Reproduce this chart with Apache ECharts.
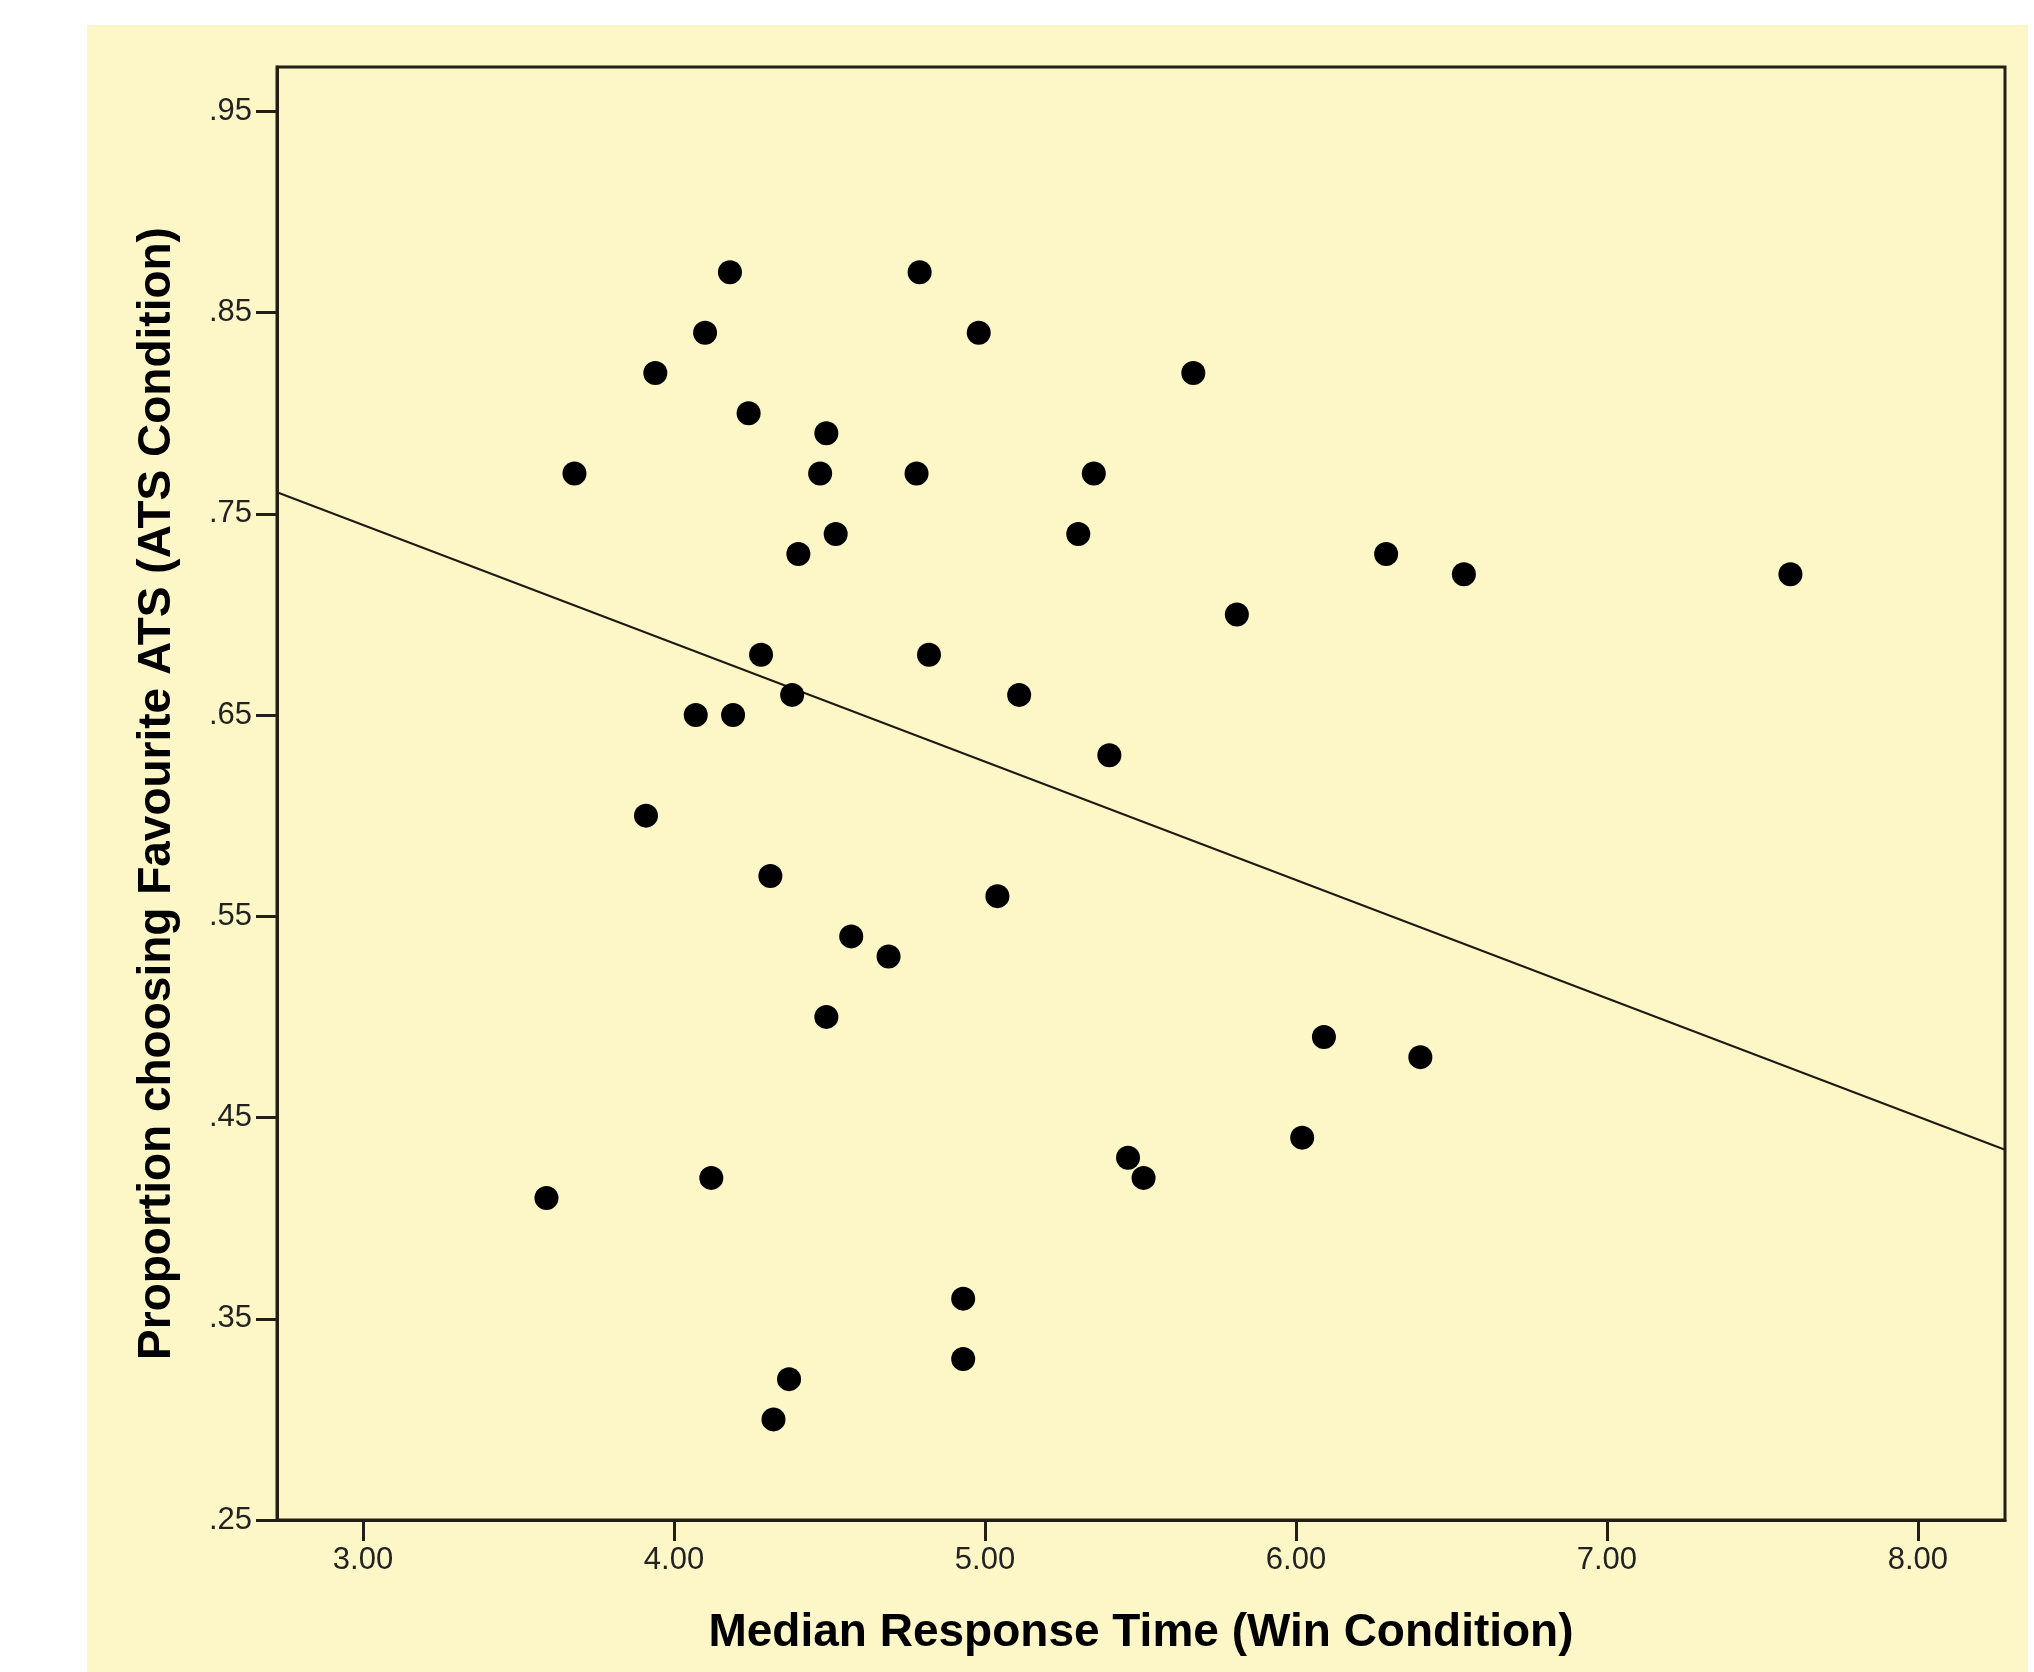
<!DOCTYPE html>
<html>
<head>
<meta charset="utf-8">
<script src="https://cdn.jsdelivr.net/npm/echarts@6/dist/echarts.min.js"></script>
<style>
  html, body { margin: 0; padding: 0; background: #fff; }
  #chart { width: 2034px; height: 1672px; }
</style>
</head>
<body>
<div id="chart"></div>
<script>
// data
const responseTime = [4.18, 4.79, 4.10, 4.98, 3.94, 5.67, 4.24, 4.49, 3.68, 4.47, 4.78, 5.35, 4.52, 5.30, 4.40, 6.29, 6.54, 7.59, 5.81, 4.28, 4.82, 4.38, 5.11, 4.07, 4.19, 5.40, 3.91, 4.31, 5.04, 4.57, 4.69, 4.49, 6.09, 6.40, 6.02, 5.46, 5.51, 4.12, 3.59, 4.93, 4.93, 4.37, 4.32]
const proportion = [0.87, 0.87, 0.84, 0.84, 0.82, 0.82, 0.80, 0.79, 0.77, 0.77, 0.77, 0.77, 0.74, 0.74, 0.73, 0.73, 0.72, 0.72, 0.70, 0.68, 0.68, 0.66, 0.66, 0.65, 0.65, 0.63, 0.60, 0.57, 0.56, 0.54, 0.53, 0.50, 0.49, 0.48, 0.44, 0.43, 0.42, 0.42, 0.41, 0.36, 0.33, 0.32, 0.30]

// fit line end points (at the plot edges)
const fitX = [2.7235, 8.28]
const fitY = [0.7607, 0.434]

const xTicks = [3, 4, 5, 6, 7, 8]
const yTicks = [0.25, 0.35, 0.45, 0.55, 0.65, 0.75, 0.85, 0.95]

const ink = '#231f16'
const font = '"Liberation Sans", Arial, sans-serif'

const chart = echarts.init(document.getElementById('chart'))

const option = {
  animation: false,
  textStyle: { fontFamily: font },
  graphic: [
    {
      type: 'rect',
      z: -100,
      silent: true,
      shape: { x: 87, y: 25, width: 1941, height: 1647 },
      style: { fill: '#fdf6c7' }
    }
  ],
  grid: {
    left: 277,
    right: 29,
    top: 67,
    bottom: 152,
    show: true,
    borderColor: ink,
    borderWidth: 3,
    backgroundColor: 'transparent'
  },
  xAxis: {
    type: 'value',
    min: fitX[0],
    max: fitX[1],
    name: 'Median Response Time (Win Condition)',
    nameLocation: 'middle',
    nameGap: 90,
    nameTextStyle: { fontSize: 46, fontWeight: 'bold', color: '#000', fontFamily: font },
    axisLine: { show: true, lineStyle: { color: ink, width: 3 } },
    axisTick: { show: true, length: 21, customValues: xTicks, lineStyle: { color: ink, width: 3 } },
    axisLabel: {
      customValues: xTicks,
      margin: 25,
      fontSize: 31,
      color: '#222',
      formatter: v => v.toFixed(2)
    },
    splitLine: { show: false }
  },
  yAxis: {
    type: 'value',
    min: 0.25,
    max: 0.972,
    name: 'Proportion choosing Favourite ATS (ATS Condition)',
    nameLocation: 'middle',
    nameRotate: 90,
    nameGap: 97,
    nameTextStyle: { fontSize: 46, fontWeight: 'bold', color: '#000', fontFamily: font },
    axisLine: { show: true, lineStyle: { color: ink, width: 3 } },
    axisTick: { show: true, length: 21, customValues: yTicks, lineStyle: { color: ink, width: 3 } },
    axisLabel: {
      customValues: yTicks,
      margin: 25,
      fontSize: 31,
      color: '#222',
      formatter: v => v.toFixed(2).replace(/^0/, '')
    },
    splitLine: { show: false }
  },
  series: [
    {
      type: 'line',
      data: fitX.map((x, i) => [x, fitY[i]]),
      showSymbol: false,
      silent: true,
      z: 1,
      lineStyle: { color: '#1e1a12', width: 2 }
    },
    {
      type: 'scatter',
      data: responseTime.map((x, i) => [x, proportion[i]]),
      symbol: 'circle',
      symbolSize: 24,
      z: 3,
      itemStyle: { color: '#000', opacity: 1 }
    }
  ]
}

chart.setOption(option)
</script>
</body>
</html>
